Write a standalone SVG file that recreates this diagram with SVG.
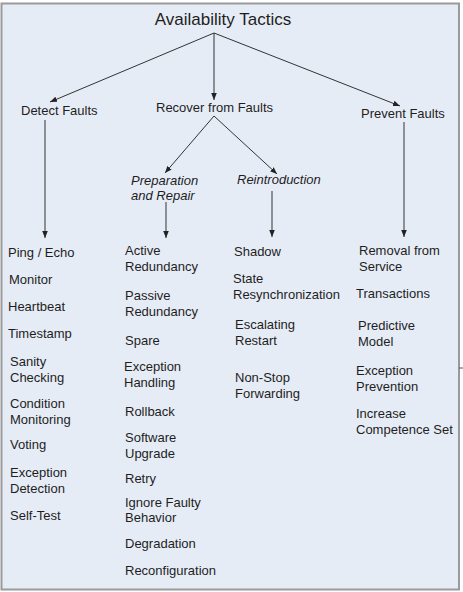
<svg xmlns="http://www.w3.org/2000/svg" width="463" height="592" viewBox="0 0 463 592">
<style>
text{font-family:"Liberation Sans",Arial,sans-serif;font-size:13px;fill:#1e1e1e}
.t{font-size:17px}
.i{font-style:italic}
.c line{stroke:#333;stroke-width:1}
</style>
<defs>
<marker id="ah" viewBox="0 0 10 10" refX="10" refY="5" markerWidth="7" markerHeight="7" markerUnits="userSpaceOnUse" orient="auto">
<path d="M0,1 L10,5 L0,9 z" fill="#222"/>
</marker>
</defs>
<rect x="0" y="0" width="463" height="592" fill="#ffffff"/>
<rect x="1.5" y="3.5" width="457.5" height="586" fill="#e6ecf6" stroke="#9a9a9a" stroke-width="2"/>
<line x1="459" y1="368" x2="463" y2="368" stroke="#555" stroke-width="1"/>
<g class="c" id="connectors">
<line x1="214" y1="33" x2="50" y2="102" marker-end="url(#ah)"/>
<line x1="214" y1="33" x2="214" y2="100" marker-end="url(#ah)"/>
<line x1="214" y1="33" x2="400" y2="106" marker-end="url(#ah)"/>
<line x1="214" y1="116" x2="165" y2="173" marker-end="url(#ah)"/>
<line x1="214" y1="116" x2="277" y2="174" marker-end="url(#ah)"/>
<line x1="45" y1="120" x2="45" y2="238" marker-end="url(#ah)"/>
<line x1="166" y1="202" x2="166" y2="238" marker-end="url(#ah)"/>
<line x1="272" y1="191" x2="272" y2="237" marker-end="url(#ah)"/>
<line x1="404" y1="122" x2="404" y2="237" marker-end="url(#ah)"/>
</g>
<g id="title"><text class="t" x="223" y="25" text-anchor="middle">Availability Tactics</text></g>
<g id="detect"><text x="21" y="115">Detect Faults</text></g>
<g id="recover"><text x="156" y="112">Recover from Faults</text></g>
<g id="prevent"><text x="361" y="118">Prevent Faults</text></g>
<g id="prep"><text class="i" x="131" y="185">Preparation</text><text class="i" x="131" y="200">and Repair</text></g>
<g id="reintro"><text class="i" x="237" y="184">Reintroduction</text></g>
<g id="detect-items">
<text x="8" y="257">Ping / Echo</text>
<text x="9" y="284">Monitor</text>
<text x="8" y="311">Heartbeat</text>
<text x="8" y="338">Timestamp</text>
<text x="10" y="366">Sanity</text>
<text x="10" y="382">Checking</text>
<text x="10" y="408">Condition</text>
<text x="10" y="424">Monitoring</text>
<text x="10" y="449">Voting</text>
<text x="10" y="477">Exception</text>
<text x="10" y="493">Detection</text>
<text x="10" y="520">Self-Test</text>
</g>
<g id="prep-items">
<text x="125" y="255">Active</text>
<text x="125" y="271">Redundancy</text>
<text x="125" y="300">Passive</text>
<text x="125" y="316">Redundancy</text>
<text x="125" y="345">Spare</text>
<text x="124" y="371">Exception</text>
<text x="124" y="387">Handling</text>
<text x="125" y="416">Rollback</text>
<text x="125" y="442">Software</text>
<text x="125" y="458">Upgrade</text>
<text x="125" y="483">Retry</text>
<text x="125" y="507">Ignore Faulty</text>
<text x="125" y="522">Behavior</text>
<text x="125" y="548">Degradation</text>
<text x="125" y="575">Reconfiguration</text>
</g>
<g id="reintro-items">
<text x="234" y="256">Shadow</text>
<text x="233" y="283">State</text>
<text x="233" y="299">Resynchronization</text>
<text x="235" y="329">Escalating</text>
<text x="235" y="345">Restart</text>
<text x="235" y="382">Non-Stop</text>
<text x="235" y="398">Forwarding</text>
</g>
<g id="prevent-items">
<text x="359" y="255">Removal from</text>
<text x="359" y="271">Service</text>
<text x="356" y="298">Transactions</text>
<text x="358" y="330">Predictive</text>
<text x="358" y="346">Model</text>
<text x="356" y="375">Exception</text>
<text x="356" y="391">Prevention</text>
<text x="356" y="418">Increase</text>
<text x="356" y="434">Competence Set</text>
</g>
</svg>
